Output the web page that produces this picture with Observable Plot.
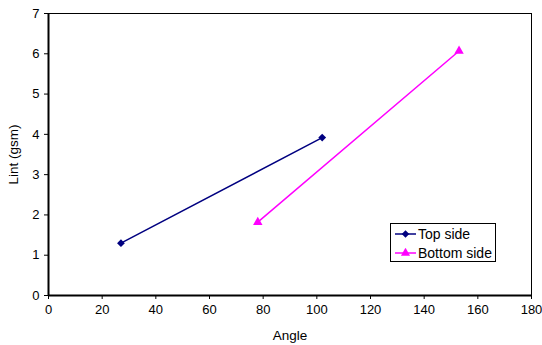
<!DOCTYPE html>
<html>
<head>
<meta charset="utf-8">
<script src="https://cdn.jsdelivr.net/npm/d3@7"></script>
<script src="https://cdn.jsdelivr.net/npm/@observablehq/plot@0.6"></script>
<style>
  html, body { margin: 0; padding: 0; background: #fff; }
  #wrap { position: relative; width: 542px; height: 345px; font-family: "Liberation Sans", Arial, sans-serif; }
  #wrap svg text { font-family: "Liberation Sans", Arial, sans-serif; fill: #000; }
  #legend { position: absolute; left: 390px; top: 223px; width: 106px; height: 39px; border: 1px solid #000; background: #fff; box-sizing: border-box; font-size: 14px; }
  .item { position: absolute; left: 3px; height: 17px; display: flex; align-items: center; }
  .item svg { margin-right: 1px; }
</style>
</head>
<body>
<div id="wrap"></div>
<script>
const seriesNames = ["Top side", "Bottom side"];
const seriesColors = ["#000080", "#FF00FF"];
const seriesSymbols = ["diamond2", "triangle"];
const topAngle = [27, 102];
const topLint = [1.3, 3.92];
const bottomAngle = [78, 153];
const bottomLint = [1.82, 6.07];
const xTicks = [0, 20, 40, 60, 80, 100, 120, 140, 160, 180];
const yTicks = [0, 1, 2, 3, 4, 5, 6, 7];

const data = [
  ...topAngle.map((a, i) => ({series: seriesNames[0], angle: a, lint: topLint[i]})),
  ...bottomAngle.map((a, i) => ({series: seriesNames[1], angle: a, lint: bottomLint[i]}))
];

const chart = Plot.plot({
  width: 542,
  height: 345,
  marginLeft: 48,
  marginRight: 11,
  marginTop: 13,
  marginBottom: 50,
  style: {fontFamily: "'Liberation Sans', Arial, sans-serif", color: "#000", background: "#fff"},
  x: {domain: [0, 180]},
  y: {domain: [0, 7]},
  color: {domain: seriesNames, range: seriesColors},
  symbol: {domain: seriesNames, range: seriesSymbols},
  marks: [
    Plot.axisX(xTicks, {tickFormat: "d", fontSize: 13, tickSize: 4, tickPadding: 5, label: null}),
    Plot.axisX({ticks: [], label: "Angle", labelAnchor: "center", labelArrow: "none", labelOffset: 44, fontSize: 13.5, tickSize: 0}),
    Plot.axisY(yTicks, {tickFormat: "d", fontSize: 13, tickSize: 4, tickPadding: 5, label: null}),
    Plot.axisY({ticks: [], label: "Lint (gsm)", labelAnchor: "center", labelArrow: "none", labelOffset: 40, fontSize: 13.5, tickSize: 0}),
    Plot.frame({stroke: "#000", strokeWidth: 1}),
    Plot.ruleY([0], {stroke: "#000", strokeWidth: 2}),
    Plot.ruleX([0], {stroke: "#000", strokeWidth: 2}),
    Plot.line(data, {x: "angle", y: "lint", z: "series", stroke: "series", strokeWidth: 1.5}),
    Plot.dot(data, {x: "angle", y: "lint", symbol: "series", fill: "series", r: 3.5, stroke: null})
  ]
});
document.getElementById("wrap").appendChild(chart);

const legend = document.createElement("div");
legend.id = "legend";
seriesNames.forEach((name, i) => {
  const item = document.createElement("div");
  item.className = "item";
  item.style.top = (1 + i * 19) + "px";
  const sym = d3.symbol(i === 0 ? d3.symbolDiamond2 : d3.symbolTriangle, 36)();
  item.innerHTML = `<svg width="23" height="10"><line x1="1" x2="22" y1="5" y2="5" stroke="${seriesColors[i]}" stroke-width="1.5"/><path transform="translate(11.5,5)" d="${sym}" fill="${seriesColors[i]}"/></svg><span>${name}</span>`;
  legend.appendChild(item);
});
document.getElementById("wrap").appendChild(legend);
</script>
</body>
</html>
